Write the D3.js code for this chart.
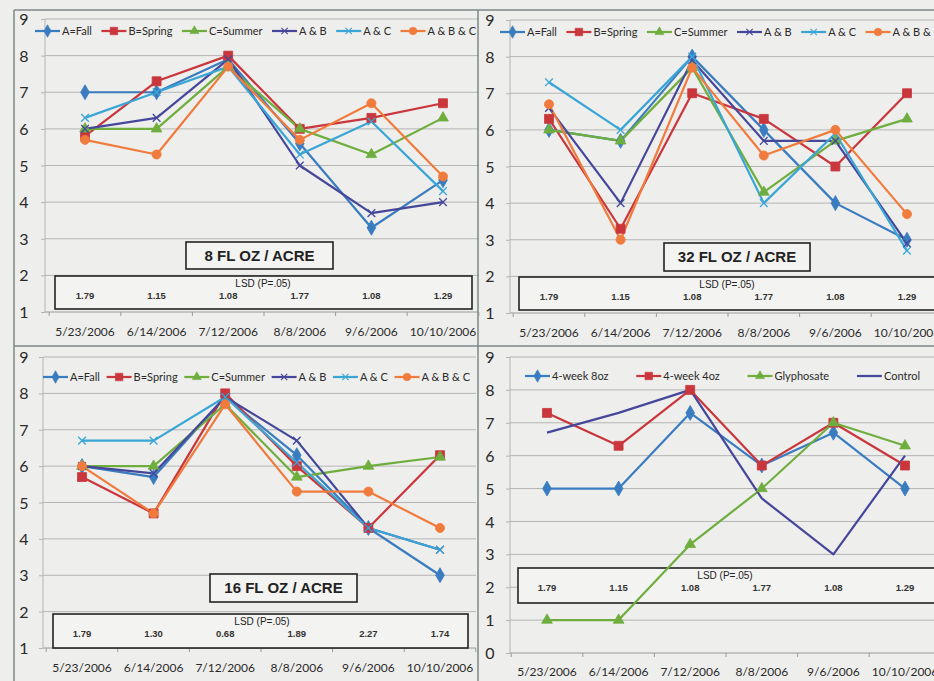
<!DOCTYPE html>
<html><head><meta charset="utf-8">
<script src="https://cdn.jsdelivr.net/npm/d3@7"></script>
<style>body{margin:0;background:#eeeeec;} svg{display:block;}</style>
</head><body><svg id="c" width="934" height="681"></svg>
<script>
// ---------- data ----------
const dates = ["5/23/2006","6/14/2006","7/12/2006","8/8/2006","9/6/2006","10/10/2006"];
const timingNames = ["A=Fall","B=Spring","C=Summer","A & B","A & C","A & B & C"];
const checkNames = ["4-week 8oz","4-week 4oz","Glyphosate","Control"];
const yTicks1to9 = [1,2,3,4,5,6,7,8,9];
const yTicks0to9 = [0,1,2,3,4,5,6,7,8,9];

// 8 FL OZ / ACRE
const fall8   = [7.0, 7.0, 7.9, 5.6, 3.3, 4.6];
const spring8 = [5.8, 7.3, 8.0, 6.0, 6.3, 6.7];
const summer8 = [6.0, 6.0, 7.7, 6.0, 5.3, 6.3];
const ab8     = [6.0, 6.3, 7.9, 5.0, 3.7, 4.0];
const ac8     = [6.3, 7.0, 7.7, 5.3, 6.2, 4.3];
const abc8    = [5.7, 5.3, 7.7, 5.7, 6.7, 4.7];
const lsd8    = ["1.79","1.15","1.08","1.77","1.08","1.29"];

// 32 FL OZ / ACRE
const fall32   = [6.0, 5.7, 8.0, 6.0, 4.0, 3.0];
const spring32 = [6.3, 3.3, 7.0, 6.3, 5.0, 7.0];
const summer32 = [6.0, 5.7, 7.7, 4.3, 5.7, 6.3];
const ab32     = [6.6, 4.0, 7.9, 5.7, 5.7, 2.9];
const ac32     = [7.3, 6.0, 8.0, 4.0, 5.9, 2.7];
const abc32    = [6.7, 3.0, 7.7, 5.3, 6.0, 3.7];
const lsd32    = ["1.79","1.15","1.08","1.77","1.08","1.29"];

// 16 FL OZ / ACRE
const fall16   = [6.0, 5.7, 7.9, 6.3, 4.3, 3.0];
const spring16 = [5.7, 4.7, 8.0, 6.0, 4.3, 6.3];
const summer16 = [6.0, 6.0, 7.7, 5.7, 6.0, 6.25];
const ab16     = [6.0, 5.8, 7.9, 6.7, 4.3, 3.7];
const ac16     = [6.7, 6.7, 7.9, 6.1, 4.3, 3.7];
const abc16    = [6.0, 4.7, 7.7, 5.3, 5.3, 4.3];
const lsd16    = ["1.79","1.30","0.68","1.89","2.27","1.74"];

// Checks
const week8oz    = [5.0, 5.0, 7.3, 5.7, 6.7, 5.0];
const week4oz    = [7.3, 6.3, 8.0, 5.7, 7.0, 5.7];
const glyphosate = [1.0, 1.0, 3.3, 5.0, 7.0, 6.3];
const control    = [6.7, 7.3, 8.0, 4.7, 3.0, 6.0];
const lsdChecks  = ["1.79","1.15","1.08","1.77","1.08","1.29"];

// ---------- styles ----------
const C_BLUE="#3a7cc0", C_RED="#c9363c", C_GREEN="#6fae3e", C_NAVY="#45479a", C_AQUA="#3aa6d6", C_ORANGE="#f07b3c";
const timingStyles = [
  {color:C_BLUE, sym:d3.symbolDiamond, size:65, fill:true},
  {color:C_RED, sym:d3.symbolSquare, size:80, fill:true},
  {color:C_GREEN, sym:d3.symbolTriangle, size:50, fill:true},
  {color:C_NAVY, sym:d3.symbolX, size:40, fill:false},
  {color:C_AQUA, sym:d3.symbolX, size:40, fill:false},
  {color:C_ORANGE, sym:d3.symbolCircle, size:65, fill:true}
];
const checkStyles = [timingStyles[0], timingStyles[1], timingStyles[2], {color:C_NAVY, sym:null}];

const panels = [
  {title:"8 FL OZ / ACRE", names:timingNames, styles:timingStyles, data:[fall8,spring8,summer8,ab8,ac8,abc8], lsd:lsd8,
   xa:85, xb:443, yTop:19, yBot:312, dom:[1,9], ticks:yTicks1to9, plotL:45, plotR:479, yLabX:24, dateY:332,
   legY:31, legL:35, legR:476, titleBox:[186,242,147,27], lsdBox:[55,276,417,33], lsdTitleX:263},
  {title:"32 FL OZ / ACRE", names:timingNames, styles:timingStyles, data:[fall32,spring32,summer32,ab32,ac32,abc32], lsd:lsd32,
   xa:549, xb:907, yTop:20, yBot:313, dom:[1,9], ticks:yTicks1to9, plotL:510, plotR:944, yLabX:490, dateY:333,
   legY:32, legL:500, legR:941, titleBox:[664,243,146,28], lsdBox:[519,277,425,33], lsdTitleX:727},
  {title:"16 FL OZ / ACRE", names:timingNames, styles:timingStyles, data:[fall16,spring16,summer16,ab16,ac16,abc16], lsd:lsd16,
   xa:82, xb:440, yTop:357, yBot:648, dom:[1,9], ticks:yTicks1to9, plotL:43, plotR:476, yLabX:24, dateY:668,
   legY:377, legL:43, legR:470, titleBox:[210,574,147,28], lsdBox:[53,614,415,34], lsdTitleX:262},
  {title:null, names:checkNames, styles:checkStyles, data:[week8oz,week4oz,glyphosate,control], lsd:lsdChecks,
   xa:547, xb:905, yTop:357, yBot:653, dom:[0,9], ticks:yTicks0to9, plotL:510, plotR:944, yLabX:490, dateY:672,
   legY:376, legL:525, legR:920, titleBox:null, lsdBox:[518,568,426,35], lsdTitleX:725}
];

const svg = d3.select("#c");
svg.append("rect").attr("width",934).attr("height",681).attr("fill","#eeeeec");
const LBL_FONT = "Lato, 'Open Sans', sans-serif";
const BOX_FONT = "'Liberation Sans', Arial, sans-serif";

function marker(g, st, x, y){
  if(!st.sym) return;
  g.append("path").attr("d", d3.symbol(st.sym, st.size)())
    .attr("transform", `translate(${x},${y})`)
    .attr("fill", st.fill ? st.color : "none")
    .attr("stroke", st.color).attr("stroke-width", st.fill ? 0.8 : 1.3);
}

panels.forEach(p=>{
  const g = svg.append("g");
  const x = d3.scalePoint().domain(dates).range([p.xa, p.xb]);
  const y = d3.scaleLinear().domain(p.dom).range([p.yBot, p.yTop]);
  const step = x.step();

  // gridlines
  g.selectAll("line.grid").data(p.ticks).join("line")
    .attr("x1", p.plotL).attr("x2", p.plotR)
    .attr("y1", d=>y(d)).attr("y2", d=>y(d))
    .attr("stroke", d=> d===p.dom[0] ? "#9a9a9a" : "#b4b4b4").attr("stroke-width", 1);
  g.append("line").attr("x1",p.plotL).attr("x2",p.plotL).attr("y1",p.yTop).attr("y2",p.yBot)
    .attr("stroke","#b4b4b4");
  const ya = d3.axisLeft(y).tickValues(p.ticks).tickSize(4).tickPadding(6);
  const yg = g.append("g").attr("transform",`translate(${p.plotL},0)`).call(ya);
  yg.select(".domain").remove();
  yg.selectAll("line").attr("stroke","#b4b4b4");
  yg.selectAll("text").attr("font-family",LBL_FONT).attr("font-size",16).attr("fill","#2a2a2a")
    .attr("text-anchor","middle").attr("x", p.yLabX - p.plotL).attr("dy","0.35em");
  const bounds = dates.map(d=> x(d)-step/2).concat([x(dates[dates.length-1])+step/2]);
  g.selectAll("line.xt").data(bounds).join("line")
    .attr("x1",d=>d).attr("x2",d=>d).attr("y1",p.yBot).attr("y2",p.yBot+4).attr("stroke","#9a9a9a");
  g.selectAll("text.xl").data(dates).join("text")
    .attr("x", d=>x(d)).attr("y", p.dateY).attr("text-anchor","middle").attr("dy","0.35em")
    .attr("font-family",LBL_FONT).attr("font-size",12).attr("fill","#2a2a2a").text(d=>d);

  // LSD box
  const b = p.lsdBox;
  g.append("rect").attr("x",b[0]).attr("y",b[1]).attr("width",b[2]).attr("height",b[3])
    .attr("fill","#f3f3f1").attr("stroke","#222").attr("stroke-width",1.6);

  const line = d3.line().x((d,i)=>x(dates[i])).y(d=>y(d));
  p.data.forEach((vals,si)=>{
    const st = p.styles[si];
    g.append("path").datum(vals).attr("d", line).attr("fill","none")
      .attr("stroke", st.color).attr("stroke-width", 2.2).attr("stroke-linejoin","round");
  });
  p.data.forEach((vals,si)=>{
    const st = p.styles[si];
    vals.forEach((v,i)=> marker(g, st, x(dates[i]), y(v)));
  });

  g.append("text").attr("x", p.lsdTitleX).attr("y", b[1]+11).attr("text-anchor","middle")
    .attr("font-family",BOX_FONT).attr("font-size",10).attr("fill","#222")
    .text("LSD (P=.05)");
  g.selectAll("text.lsd").data(p.lsd).join("text")
    .attr("x",(d,i)=>x(dates[i])).attr("y", b[1]+23).attr("text-anchor","middle")
    .attr("font-family",BOX_FONT).attr("font-size",9.5).attr("font-weight","bold").attr("fill","#333")
    .text(d=>d);

  if(p.titleBox){
    const t = p.titleBox;
    g.append("rect").attr("x",t[0]).attr("y",t[1]).attr("width",t[2]).attr("height",t[3])
      .attr("fill","#f3f3f1").attr("stroke","#222").attr("stroke-width",1.6);
    g.append("text").attr("x",t[0]+t[2]/2).attr("y",t[1]+t[3]/2).attr("dy","0.36em").attr("text-anchor","middle")
      .attr("font-family",BOX_FONT).attr("font-weight","bold").attr("font-size",15)
      .attr("fill","#222").text(p.title);
  }

  // legend
  const lg = g.append("g");
  const LL = 25, GAP_T = 2;
  const items = p.names.map((n,i)=>{
    const it = lg.append("g");
    const st = p.styles[i];
    it.append("line").attr("x1",0).attr("x2",LL).attr("y1",0).attr("y2",0).attr("stroke",st.color).attr("stroke-width",2.2);
    if(st.sym){
      it.append("path").attr("d", d3.symbol(st.sym, st.size*0.7)()).attr("transform",`translate(${LL/2},0)`)
        .attr("fill", st.fill?st.color:"none").attr("stroke",st.color).attr("stroke-width",st.fill?0.6:1.1);
    }
    const tx = it.append("text").attr("x",LL+GAP_T).attr("y",0).attr("dy","0.35em")
      .attr("font-family",LBL_FONT).attr("font-size",11).attr("fill","#2a2a2a").text(n);
    return {g:it, w: LL+GAP_T+tx.node().getComputedTextLength()};
  });
  const total = d3.sum(items, d=>d.w);
  const gap = (p.legR - p.legL - total)/(items.length-1);
  let cx = p.legL;
  items.forEach(it=>{ it.g.attr("transform",`translate(${cx},${p.legY})`); cx += it.w + gap; });
});

const frame = svg.append("g").attr("stroke","#7c8888").attr("stroke-width",1.5);
frame.append("line").attr("x1",14).attr("x2",14).attr("y1",10).attr("y2",681);
frame.append("line").attr("x1",14).attr("x2",934).attr("y1",10).attr("y2",10);
frame.append("line").attr("x1",478).attr("x2",478).attr("y1",10).attr("y2",681);
frame.append("line").attr("x1",14).attr("x2",934).attr("y1",346).attr("y2",346);
</script></body></html>
